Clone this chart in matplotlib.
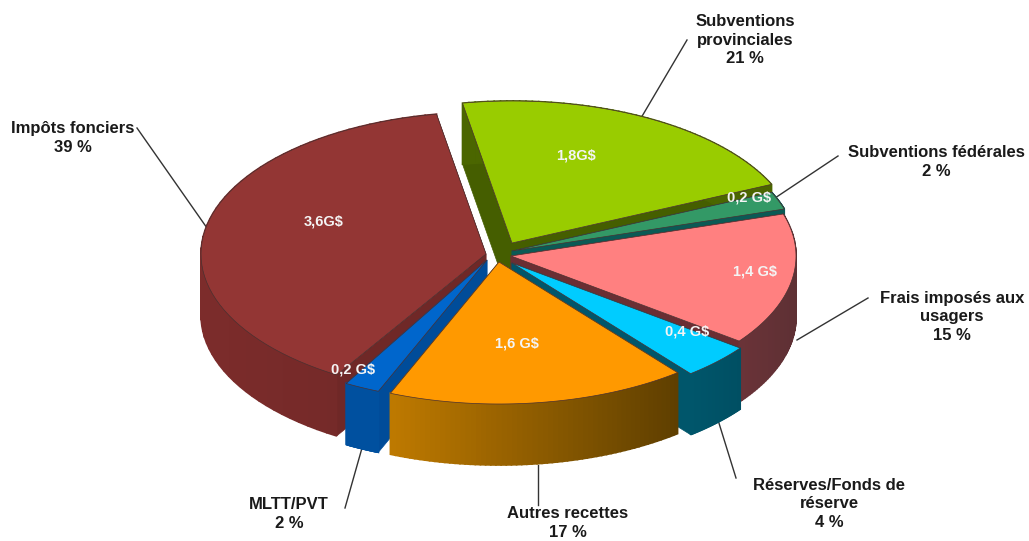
import numpy as np
import matplotlib
matplotlib.use('Agg')
import matplotlib.pyplot as plt

plt.rcParams['font.family'] = ['Liberation Sans', 'DejaVu Sans']

# Data, clockwise from the top of the pie
categories = ['Subventions\nprovinciales', 'Subventions fédérales', 'Frais imposés aux\nusagers',
              'Réserves/Fonds de\nréserve', 'Autres recettes', 'MLTT/PVT', 'Impôts fonciers']
percents = [21, 2, 15, 4, 17, 2, 39]
amounts = ['1,8G$', '0,2 G$', '1,4 G$', '0,4 G$', '1,6 G$', '0,2 G$', '3,6G$']

# Styles
top_colors = ['#99CC00', '#339966', '#FF8080', '#00CCFF', '#FF9900', '#0066CC', '#933634']
side_left = ['#4B6600', '#0B5A55', '#6B3338', '#00566B', '#BF7A00', '#00509F', '#7C2C2B']
side_right = ['#4B6600', '#0B5A55', '#5E3034', '#004F63', '#5F3F00', '#00509F', '#702827']
cut_colors = ['#455E00', '#0B5A55', '#6B2E33', '#00566B', '#8A5A00', '#004C99', '#6F2827']
centers = [(512, 243), (512, 251), (511, 256), (512, 263), (499, 262), (487, 260), (486, 254)]
start_nudge = [0, 0, 0, 0, 0, 0, 2]  # the big slice starts a little later in the picture
label_pos = [(745, 40), (936, 162), (952, 317), (829, 504), (568, 523), (289, 514), (73, 138)]
amount_pos = [(576, 155), (749, 197), (755, 272), (687, 332), (517, 344), (353, 369), (324, 221)]
leaders = [((641, 118), (687, 40)), ((775, 198), (838, 156)), ((797, 340), (868, 298)),
           ((718, 420), (736, 478)), ((538, 465), (538, 505)), ((362, 448), (345, 508)),
           ((207, 228), (137, 128))]
draw_order = [0, 1, 6, 2, 5, 3, 4]

RX, RY, DEPTH = 285, 142, 61
START = -10.0


def rim(cx, cy, theta):
    """Point on the ellipse, theta in degrees clockwise from the top"""
    t = np.radians(theta)
    return cx + RX * np.sin(t), cy - RY * np.cos(t)


fig = plt.figure(figsize=(10.29, 5.41), dpi=100)
ax = fig.add_axes([0, 0, 1, 1])
ax.set_xlim(0, 1029)
ax.set_ylim(541, 0)
ax.axis('off')

# Leader lines go under the pie
for a, b in leaders:
    ax.plot([a[0], b[0]], [a[1], b[1]], color='#333333', lw=1, zorder=1)

edges = START + np.concatenate([[0], np.cumsum(percents)]) * 3.6
z = 2
for i in draw_order:
    cx, cy = centers[i]
    a0, a1 = edges[i] + start_nudge[i], edges[i + 1]
    thetas = np.linspace(a0, a1, 60)
    xs, ys = rim(cx, cy, thetas)

    # Cut faces
    for k in (0, -1):
        ax.fill([cx, xs[k], xs[k], cx], [cy, ys[k], ys[k] + DEPTH, cy + DEPTH],
                color=cut_colors[i], lw=0.5, zorder=z)

    # Outer wall with a left to right shading
    c0 = np.array(matplotlib.colors.to_rgb(side_left[i]))
    c1 = np.array(matplotlib.colors.to_rgb(side_right[i]))
    for j in range(len(thetas) - 1):
        f = np.clip((xs[j] - xs.min()) / max(xs.max() - xs.min(), 1), 0, 1)
        col = c0 + (c1 - c0) * f
        ax.fill([xs[j], xs[j + 1], xs[j + 1], xs[j]],
                [ys[j], ys[j + 1], ys[j + 1] + DEPTH, ys[j] + DEPTH],
                facecolor=col, edgecolor=col, lw=1.2, zorder=z)

    # Top face
    ax.fill(np.r_[cx, xs], np.r_[cy, ys], facecolor=top_colors[i],
            edgecolor='#4a3030', lw=0.5, zorder=z + 0.5)
    z += 1

for i, cat in enumerate(categories):
    ax.text(label_pos[i][0], label_pos[i][1], f'{cat}\n{percents[i]} %', ha='center', va='center',
            fontsize=12, fontweight='bold', color='#1a1a1a', linespacing=1.3, zorder=20)
    ax.text(amount_pos[i][0], amount_pos[i][1], amounts[i], ha='center', va='center',
            fontsize=10.5, fontweight='bold', color='#F4F4F4', zorder=20)

fig.savefig('out.png', dpi=100)
